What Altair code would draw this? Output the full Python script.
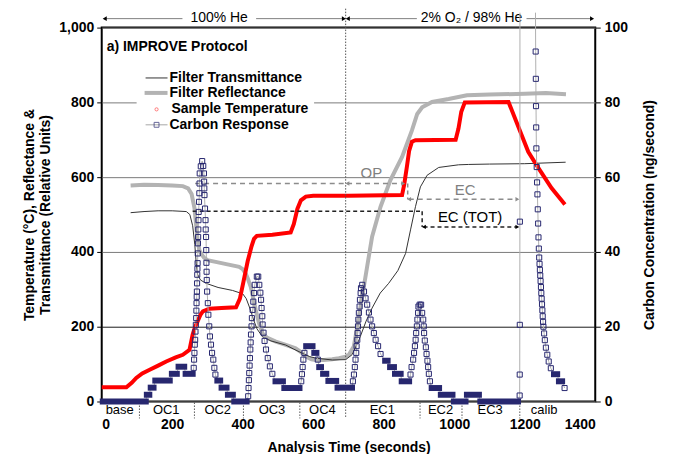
import altair as alt
import pandas as pd

FONT = "Liberation Sans"
NAVY = "#27276f"
RED = "#ff0000"
GRAY_R = "#b3b3b3"

# ---------------- data ----------------
# Sample temperature (deg C)
temp_t = [0, 70, 85, 98, 115, 136, 160, 183, 210, 230, 249, 258, 265, 272, 280, 287, 305, 340, 381,
          392, 402, 414, 425, 432, 440, 484, 536, 545, 555, 565, 579, 600, 700, 852, 858, 866, 872,
          880, 890, 1004, 1012, 1020, 1030, 1154, 1210, 1239, 1276, 1314]
temp_v = [38, 38, 50, 63, 75, 85, 96, 107, 118, 125, 138, 179, 200, 214, 232, 241, 248, 250, 252,
          275, 320, 375, 415, 435, 443, 446, 452, 475, 515, 538, 548, 550, 550, 552, 580, 630, 670,
          695, 699, 700, 730, 775, 800, 801, 668, 624, 571, 527]

# Filter reflectance (relative units)
refl_t = [82, 120, 160, 200, 230, 245, 255, 263, 268, 272, 277, 282, 290, 300, 330, 360, 390, 400,
          409, 416, 423, 430, 437, 446, 456, 470, 494, 520, 550, 565, 579, 595, 607, 630, 654, 673,
          692, 701, 715, 725, 739, 753, 767, 791, 819, 852, 880, 895, 909, 937, 984, 1036, 1100,
          1200, 1260, 1317]
refl_v = [578, 580, 579, 578, 576, 570, 555, 518, 470, 430, 405, 395, 385, 378, 372, 366, 360, 354,
          341, 325, 306, 275, 244, 210, 182, 170, 160, 152, 142, 132, 120, 113, 111, 111, 113, 116,
          120, 125, 147, 200, 281, 361, 441, 521, 592, 654, 725, 769, 787, 801, 809, 819, 821,
          823, 825, 822]

# Filter transmittance (relative units)
trans_t = [82, 120, 160, 200, 240, 250, 258, 264, 268, 272, 280, 296, 330, 371, 400, 410, 420, 428,
           440, 456, 480, 522, 545, 569, 590, 607, 654, 692, 710, 730, 750, 767, 790, 814, 840, 862,
           876, 890, 904, 923, 956, 1012, 1041, 1100, 1200, 1316]
trans_v = [505, 508, 510, 510, 508, 500, 470, 420, 370, 340, 325, 316, 305, 297, 288, 275, 250, 226,
           195, 173, 162, 151, 140, 129, 120, 116, 111, 112, 125, 165, 215, 250, 290, 316, 350, 396,
           459, 521, 574, 605, 626, 633, 634, 635, 636, 640]

# Carbon response (ng/second): individual samples on the peaks
cr_pt_t = [261, 262, 263, 264, 265, 266, 267, 268, 268.5, 269, 269.5, 270, 270.5, 271, 271.5, 272,
           272.5, 273, 273.5, 274, 274.5, 275, 276, 277, 277.5, 278, 281, 285,
           288, 290, 290.5, 291, 291.5, 293, 294.5, 295, 296, 296.5, 297, 297.5, 298, 299, 301,
           302.5, 305, 307, 310, 313, 316.5, 319.5, 322.5,
           415.5, 416.5, 417.5, 418.5, 419.5, 420.5, 421.5, 422.5, 423.5, 425, 426, 428, 430, 432,
           434, 440, 444,
           447, 450, 452, 453.5, 455.5, 456.5, 459, 462, 466, 471, 477, 484,
           566, 568, 570, 572, 575, 613,
           712.5, 715.5, 718, 720, 722, 723, 725, 726, 727, 728, 729.5, 731.5, 732.5, 734.5, 735.5,
           739, 744, 748.5, 753, 758, 762.5, 767, 772, 777, 784, 791,
           876, 879, 883.5, 886, 888.5, 890.5, 892, 894, 895.5, 897.5, 898.5, 902, 906,
           909, 912, 913.5, 914.5, 916.5, 919.5, 921.5, 924, 926, 928, 931,
           1185.6, 1185.8, 1186.0, 1186.2,
           1231, 1231.5, 1232, 1232.5, 1233, 1234, 1235, 1236, 1237, 1238, 1239, 1240, 1241, 1242,
           1243, 1244, 1245, 1246, 1247, 1248, 1249, 1250, 1251, 1252, 1253, 1255, 1257, 1260,
           1264, 1268, 1274, 1313]
cr_pt_v = [9.0, 11.2, 13.0, 15.2, 16.5, 18.7, 20.5, 22.3, 24.3, 26.3, 28.0, 29.4, 31.6, 33.9, 35.5,
           37.0, 39.6, 42.3, 44.0, 46.0, 48.5, 50.7, 53.4, 55.7, 58.3, 61.0, 62.9, 64.3,
           63.0, 61.0, 58.8, 57.0, 55.2, 51.6, 48.5, 46.0, 44.0, 40.5, 37.1, 34.7, 32.5, 29.4, 26.3,
           23.2, 20.1, 17.4, 15.2, 13.0, 11.2, 9.0, 7.2,
           1.4, 3.6, 5.7, 7.6, 9.6, 11.6, 13.9, 15.8, 17.9, 20.1, 22.3, 24.5, 26.7, 29.0,
           31.2, 33.4, 33.4,
           31.2, 29.1, 27.2, 25.0, 22.8, 20.6, 18.4, 16.2, 13.9, 11.6, 9.4, 7.4,
           5.4, 7.3, 9.2, 11.2, 13.0, 11.2,
           5.4, 7.2, 9.2, 11.2, 13.0, 14.8, 16.5, 18.3, 20.1, 21.9, 23.7, 25.4, 27.2, 29.0, 30.3,
           31.2, 29.4, 27.6, 25.9, 23.8, 21.9, 20.1, 18.3, 16.5, 14.8, 12.7,
           7.2, 9.2, 11.2, 13.0, 14.8, 16.5, 18.3, 20.1, 21.9, 23.7, 25.4, 25.9, 25.9,
           23.7, 21.9, 20.1, 18.3, 16.3, 14.5, 12.7, 10.9, 9.2, 7.4, 5.4,
           1.6, 7.2, 20.5, 48.1,
           93.6, 86.3, 79.0, 73.3, 67.7, 62.7, 58.6, 55.4, 51.4, 47.6, 43.9, 40.9, 38.5, 36.8,
           35.2, 33.7, 32.2, 30.6, 29.0, 27.5, 26.0, 24.4, 22.8, 21.3, 20.0, 18.2, 16.4, 14.4,
           12.5, 10.7, 8.9, 3.6]

# Carbon response: flat stretches (start s, end s, ng/second)
cr_run_t0 = [3, 128, 139, 152, 199, 218, 238, 328, 340, 358, 376, 493, 518, 580, 603, 617, 628, 643,
             669, 804, 818, 832, 851, 936, 962, 999, 1036, 1074, 1283, 1297]
cr_run_t1 = [125, 135, 147, 193, 213, 234, 258, 336, 354, 372, 411, 514, 561, 598, 609, 622, 637, 665,
             710, 811, 829, 848, 872, 957, 995, 1032, 1070, 1181, 1292, 1306]
cr_run_v = [0, 1.8, 3.7, 5.6, 7.4, 9.3, 7.4, 5.6, 3.7, 1.8, 0, 5.4, 3.6, 14.8, 13.0, 9.2, 7.4, 5.5,
            3.7, 10.9, 9.2, 7.4, 5.4, 3.6, 1.8, 0, 1.8, 0, 7.3, 5.4]

# calibration spike leaves the scale (line vertices only)
calib_off_t = [1186.4, 1230.5]
calib_off_v = [104, 104]

# analysis phases
phase_names = ["base", "OC1", "OC2", "OC3", "OC4", "EC1", "EC2", "EC3", "calib"]
phase_mid = [51, 183, 329, 483, 626, 796, 961, 1102, 1255]
phase_bounds = [107, 263, 402, 562, 903, 1022, 1186]
o2_switch = 692

# ---------------- helpers ----------------
xs = alt.Scale(domain=[0, 1400], nice=False, zero=False)
ys = alt.Scale(domain=[0, 1000], nice=False)
cs = alt.Scale(domain=[0, 100], nice=False)
one = pd.DataFrame({"k": [0]})


def X(field="t"):
    return alt.X(f"{field}:Q", scale=xs, axis=None)


def Y(field="v"):
    return alt.Y(f"{field}:Q", scale=ys, axis=None)


def C(field="c"):
    return alt.Y(f"{field}:Q", scale=cs, axis=None)


def ptext(x, y, s, align="left", weight="bold", size=14, color="black"):
    return alt.Chart(one).mark_text(text=s, align=align, baseline="middle", font=FONT,
                                    fontSize=size, fontWeight=weight, color=color).encode(
        x=alt.value(x), y=alt.value(y))


# ---------------- axes carriers ----------------
x_axis = alt.Axis(values=list(range(0, 1401, 200)), format="d", title="Analysis Time (seconds)",
                  orient="bottom", ticks=False, labelPadding=16, titlePadding=9, domain=False,
                  grid=False)
y_axis = alt.Axis(values=list(range(0, 1001, 200)), format=",d", orient="left",
                  title=["Temperature (\u00b0C), Reflectance &", "Transmittance (Relative Units)"],
                  grid=True,
                  gridColor={"condition": {"test": "datum.value == 200", "value": "#1a1a1a"},
                             "value": "#7a7a7a"},
                  gridWidth=1, tickSize=5, tickColor="black",
                  labelPadding=3, titlePadding=6, domain=False)
c_axis = alt.Axis(values=list(range(0, 101, 20)), format="d", orient="right",
                  title="Carbon Concentration (ng/second)", titleAngle=270, grid=False,
                  tickSize=5, tickColor="black", labelPadding=4, titlePadding=29, domain=False)

refl_df = pd.DataFrame({"t": refl_t, "v": refl_v})
trans_df = pd.DataFrame({"t": trans_t, "v": trans_v})
temp_df = pd.DataFrame({"t": temp_t, "v": temp_v})
pts = pd.DataFrame({"t": cr_pt_t, "c": cr_pt_v})
runs = pd.DataFrame({"t0": cr_run_t0, "t1": cr_run_t1, "c": cr_run_v})

axis_x = alt.Chart(refl_df).mark_line(opacity=0).encode(
    x=alt.X("t:Q", scale=xs, axis=x_axis), y=Y())
axis_left = alt.Chart(refl_df).mark_line(opacity=0).encode(
    x=X(), y=alt.Y("v:Q", scale=ys, axis=y_axis))
axis_right = alt.Chart(pts).mark_point(opacity=0).encode(
    x=X(), y=alt.Y("c:Q", scale=cs, axis=c_axis))

refl = alt.Chart(refl_df).mark_line(color=GRAY_R, strokeWidth=4).encode(x=X(), y=Y())
trans = alt.Chart(trans_df).mark_line(color="#333333", strokeWidth=1).encode(x=X(), y=Y())
temp = alt.Chart(temp_df).mark_line(color=RED, strokeWidth=4).encode(x=X(), y=Y())

# phase labels & separators under the axis
ph_df = pd.DataFrame({"t": phase_mid, "name": phase_names})
ph_text = alt.Chart(ph_df).mark_text(font=FONT, fontSize=13, baseline="middle").encode(
    x=X(), y=alt.value(383.5), text="name:N")
sep_df = pd.DataFrame({"t": phase_bounds})
seps = alt.Chart(sep_df).mark_rule(color="#555555", strokeDash=[1.5, 1.5]).encode(
    x=X(), y=alt.value(376), y2=alt.value(392))
o2_line = alt.Chart(pd.DataFrame({"t": [o2_switch]})).mark_rule(
    color="#555555", strokeDash=[1.5, 1.5]).encode(x=X(), y=alt.value(-19), y2=alt.value(392))

# gas annotations above the plot
gas_seg = pd.DataFrame({"t": [8.5, 438, 698, 1205], "t2": [229, 687, 894, 1391]})
gas_lines = alt.Chart(gas_seg).mark_rule(color="#808080", strokeWidth=1).encode(
    x=X(), x2="t2:Q", y=alt.value(-9))
gas_left = alt.Chart(pd.DataFrame({"t": [8.5, 698]})).mark_point(
    shape="triangle-left", filled=True, size=22, color="black", opacity=1).encode(x=X(), y=alt.value(-9))
gas_right = alt.Chart(pd.DataFrame({"t": [687, 1391]})).mark_point(
    shape="triangle-right", filled=True, size=22, color="black", opacity=1).encode(x=X(), y=alt.value(-9))
gas_txt = alt.Chart(pd.DataFrame({"t": [333, 1049], "s": ["100% He", "2% O\u2082 / 98% He"]})).mark_text(
    font=FONT, fontSize=14, baseline="middle").encode(x=X(), y=alt.value(-10), text="s:N")

# OP / EC / EC(TOT) annotations (data coordinates)
GD = "#8c8c8c"
gray_h = pd.DataFrame({"t": [265, 696, 871], "t2": [690, 855, 1179], "v": [583, 583, 541]})
gray_lines = alt.Chart(gray_h).mark_rule(color=GD, strokeWidth=1.5, strokeDash=[5, 4]).encode(
    x=X(), x2="t2:Q", y=Y())
gray_v = alt.Chart(pd.DataFrame({"t": [868], "v": [583], "v2": [541]})).mark_rule(
    color=GD, strokeWidth=1.5, strokeDash=[4, 3]).encode(x=X(), y=Y(), y2="v2:Q")
gray_al = alt.Chart(pd.DataFrame({"t": [697, 872], "v": [583, 541]})).mark_point(
    shape="triangle-left", filled=True, size=20, color=GD, opacity=1).encode(x=X(), y=Y())
gray_ar = alt.Chart(pd.DataFrame({"t": [855, 1179], "v": [583, 541]})).mark_point(
    shape="triangle-right", filled=True, size=20, color=GD, opacity=1).encode(x=X(), y=Y())
gray_txt = alt.Chart(pd.DataFrame({"t": [765, 1031], "v": [610, 565], "s": ["OP", "EC"]})).mark_text(
    font=FONT, fontSize=15, color="#808080", baseline="middle").encode(x=X(), y=Y(), text="s:N")

blk_h = pd.DataFrame({"t": [258, 913], "t2": [909, 1179], "v": [509, 467]})
blk_lines = alt.Chart(blk_h).mark_rule(color="#222222", strokeWidth=1.5, strokeDash=[4, 3]).encode(
    x=X(), x2="t2:Q", y=Y())
blk_v = alt.Chart(pd.DataFrame({"t": [909], "v": [509], "v2": [467]})).mark_rule(
    color="#222222", strokeWidth=1.5, strokeDash=[4, 3]).encode(x=X(), y=Y(), y2="v2:Q")
blk_al = alt.Chart(pd.DataFrame({"t": [914], "v": [467]})).mark_point(
    shape="triangle-left", filled=True, size=20, color="black", opacity=1).encode(x=X(), y=Y())
blk_ar = alt.Chart(pd.DataFrame({"t": [1179], "v": [467]})).mark_point(
    shape="triangle-right", filled=True, size=20, color="black", opacity=1).encode(x=X(), y=Y())
blk_txt = alt.Chart(pd.DataFrame({"t": [1045], "v": [494], "s": ["EC (TOT)"]})).mark_text(
    font=FONT, fontSize=15, color="black", baseline="middle").encode(x=X(), y=Y(), text="s:N")

# legend (drawn by hand)
leg_box = alt.Chart(one).mark_rect(fill="white").encode(
    x=alt.value(35), x2=alt.value(213), y=alt.value(37), y2=alt.value(104))
leg_t = alt.Chart(one).mark_rule(color="#333333", strokeWidth=1).encode(
    x=alt.value(44), x2=alt.value(66), y=alt.value(50.5))
leg_r = alt.Chart(one).mark_rule(color=GRAY_R, strokeWidth=4).encode(
    x=alt.value(43), x2=alt.value(66), y=alt.value(65.5))
leg_temp = alt.Chart(one).mark_point(shape="circle", filled=False, size=10, color="#ff4040",
                                     strokeWidth=1).encode(x=alt.value(55), y=alt.value(82))
leg_cl = alt.Chart(one).mark_rule(color="#a8a8a8", strokeWidth=1).encode(
    x=alt.value(44), x2=alt.value(66), y=alt.value(97.5))
leg_cs = alt.Chart(one).mark_point(shape="square", filled=False, size=24, color=NAVY,
                                   strokeWidth=1).encode(x=alt.value(55), y=alt.value(97.5))

# ---------------- carbon layers ----------------
line_df = pd.concat([
    pts,
    pd.DataFrame({"t": cr_run_t0, "c": cr_run_v}),
    pd.DataFrame({"t": cr_run_t1, "c": cr_run_v}),
    pd.DataFrame({"t": calib_off_t, "c": calib_off_v}),
]).sort_values("t").reset_index(drop=True)
line_df["seg"] = (line_df["t"] > 1200).astype(int)

c_line = alt.Chart(line_df).mark_line(color="#b0b0b0", strokeWidth=1).encode(
    x=X(), y=C(), detail="seg:N", order="t:Q")
c_runs = alt.Chart(runs).mark_rule(color=NAVY, strokeWidth=6, strokeCap="square").encode(
    x=X("t0"), x2="t1:Q", y=C())
c_pts = alt.Chart(pts).mark_point(shape="square", filled=False, size=26, color=NAVY,
                                  strokeWidth=1, opacity=1).encode(x=X(), y=C())

chart = alt.layer(
    axis_x, axis_left, axis_right,
    leg_box, refl, trans, temp,
    ph_text, seps, o2_line, gas_lines, gas_left, gas_right, gas_txt,
    gray_lines, gray_v, gray_al, gray_ar, gray_txt,
    blk_lines, blk_v, blk_al, blk_ar, blk_txt,
    c_line, c_runs, c_pts,
    leg_t, leg_r, leg_temp, leg_cl, leg_cs,
    ptext(68, 50.5, "Filter Transmittance"),
    ptext(68, 65.5, "Filter Reflectance"),
    ptext(70, 82, "Sample Temperature"),
    ptext(68, 97.5, "Carbon Response"),
    ptext(5, 19, "a)  IMPROVE Protocol"),
).resolve_scale(x="independent", y="independent").properties(
    width=495, height=375, autosize=alt.AutoSizeParams(type="none"),
    padding={"left": 94, "top": 19, "right": 82, "bottom": 52},
    background="white",
).configure_view(stroke="black", strokeWidth=2).configure_axis(
    labelFont=FONT, titleFont=FONT, labelFontSize=14, titleFontSize=14,
    labelFontWeight="bold", titleFontWeight="bold", labelColor="black", titleColor="black",
).configure_text(font=FONT)

chart.save("out.html", embed_options={"renderer": "svg", "actions": False})
